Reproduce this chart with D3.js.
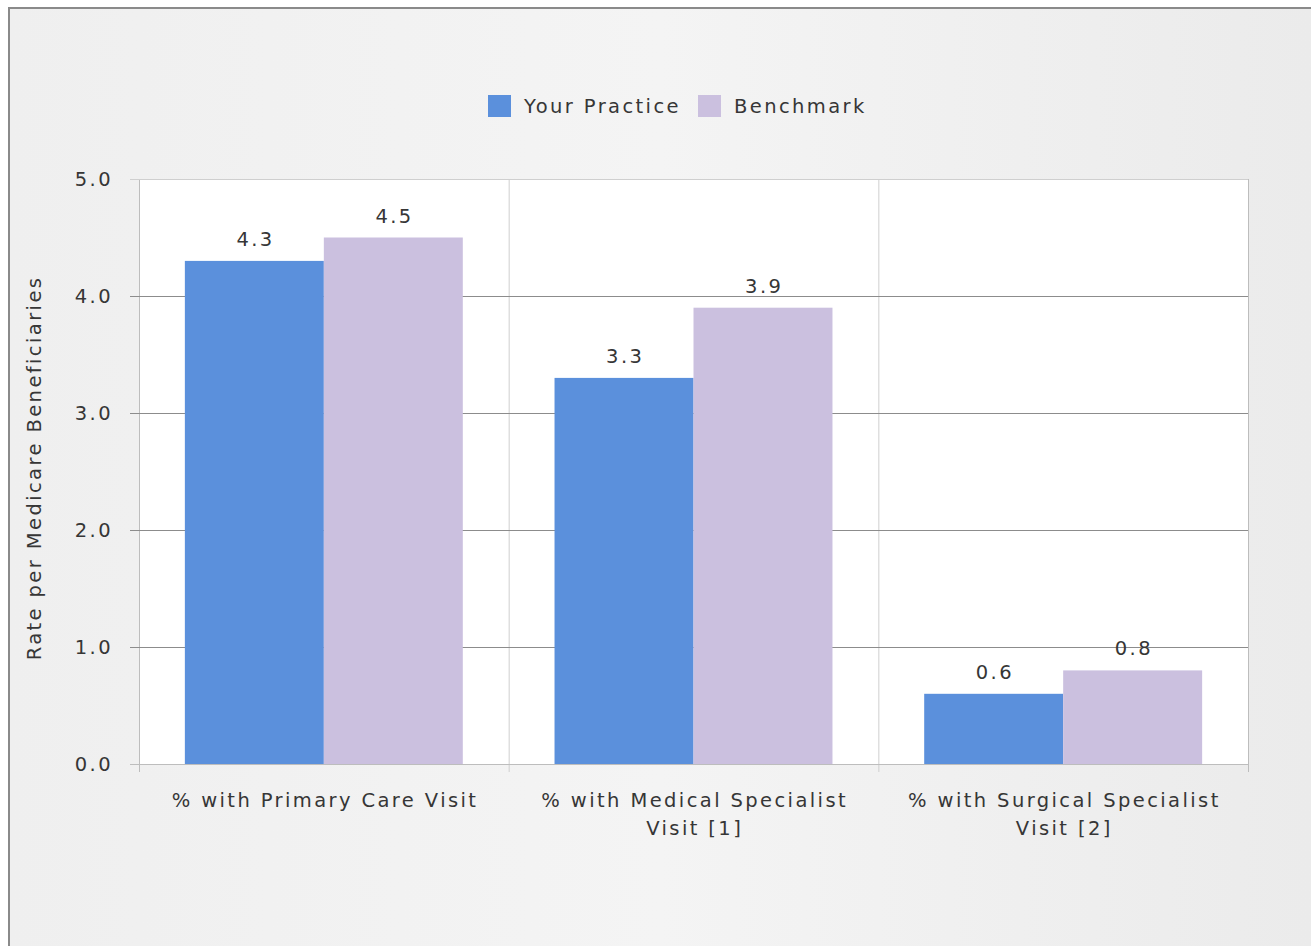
<!DOCTYPE html>
<html><head><meta charset="utf-8">
<script src="https://cdn.jsdelivr.net/npm/d3@7"></script>
<style>body{margin:0;background:#fff;}svg{display:block;}</style>
</head><body>
<script>
const categories = [["% with Primary Care Visit"], ["% with Medical Specialist", "Visit [1]"], ["% with Surgical Specialist", "Visit [2]"]];
const seriesNames = ["Your Practice", "Benchmark"];
const yourPractice = [4.3, 3.3, 0.6];
const benchmark = [4.5, 3.9, 0.8];
const yTicks = [0, 1, 2, 3, 4, 5];
const colors = ["#5b90dc", "#cbc0df"];

const W = 1311, H = 946;
const font = "'DejaVu Sans', Verdana, sans-serif";
const fs = 19.5, ls = 2.4, txt = "#363636";
const svg = d3.select("body").append("svg").attr("width", W).attr("height", H);
const defs = svg.append("defs");
const g1 = defs.append("linearGradient").attr("id", "bg").attr("x1", 0).attr("y1", 0).attr("x2", 1).attr("y2", 0);
g1.append("stop").attr("offset", 0).attr("stop-color", "#efefef");
g1.append("stop").attr("offset", 0.5).attr("stop-color", "#f4f4f4");
g1.append("stop").attr("offset", 1).attr("stop-color", "#ebebeb");

svg.append("rect").attr("x", 0).attr("y", 0).attr("width", W).attr("height", H).attr("fill", "#fff");
svg.append("rect").attr("x", 9).attr("y", 8).attr("width", W - 9).attr("height", H - 8).attr("fill", "url(#bg)");
svg.append("line").attr("x1", 9).attr("x2", 9).attr("y1", 7).attr("y2", H).attr("stroke", "#8a8a8a").attr("stroke-width", 2);
svg.append("line").attr("x1", 8).attr("x2", W).attr("y1", 8).attr("y2", 8).attr("stroke", "#8a8a8a").attr("stroke-width", 2);

const pLeft = 139, pRight = 1248, pTop = 179, pBottom = 764;
const x = d3.scaleBand().domain(d3.range(categories.length)).range([pLeft, pRight]);
const xs = d3.scaleBand().domain(seriesNames).range([0, x.bandwidth()]).paddingOuter(0.33);
const y = d3.scaleLinear().domain([0, 5]).range([pBottom, pTop]);

svg.append("rect").attr("x", pLeft).attr("y", pTop).attr("width", pRight - pLeft).attr("height", pBottom - pTop).attr("fill", "#fff");

// vertical grid
svg.append("g").selectAll("line").data(d3.range(1, categories.length)).join("line")
  .attr("x1", i => x(i) + 0.5).attr("x2", i => x(i) + 0.5)
  .attr("y1", pTop).attr("y2", pBottom + 8).attr("stroke", "#cfcfcf").attr("stroke-width", 1);
svg.append("line").attr("x1", pLeft + 0.5).attr("x2", pLeft + 0.5).attr("y1", pTop).attr("y2", pBottom + 8).attr("stroke", "#bdbdbd");
svg.append("line").attr("x1", pRight + 0.5).attr("x2", pRight + 0.5).attr("y1", pTop).attr("y2", pBottom + 8).attr("stroke", "#bdbdbd");

// horizontal grid + ticks
const yAxis = d3.axisLeft(y).tickValues(yTicks).tickFormat(d3.format(".1f")).tickSize(pRight - pLeft + 9).tickPadding(20);
const ya = svg.append("g").attr("transform", `translate(${pRight},0)`).call(yAxis);
ya.select(".domain").remove();
ya.selectAll(".tick line").attr("stroke", d => d === 5 ? "#cfcfcf" : (d === 0 ? "#bdbdbd" : "#8c8c8c"));
ya.selectAll(".tick text").attr("x", -(pRight - pLeft) - 26).attr("text-anchor", "end").attr("dy", "0.34em")
  .attr("font-family", font).attr("font-size", fs).attr("letter-spacing", ls).attr("fill", txt);

// bars
const data = categories.map((c, i) => [yourPractice[i], benchmark[i]]);
const groups = svg.append("g").selectAll("g").data(data).join("g").attr("transform", (d, i) => `translate(${x(i)},0)`);
groups.selectAll("rect").data(d => d.map((v, j) => ({v, s: seriesNames[j], j}))).join("rect")
  .attr("x", d => xs(d.s)).attr("width", xs.bandwidth()).attr("y", d => y(d.v)).attr("height", d => pBottom - y(d.v))
  .attr("fill", d => colors[d.j]);
groups.selectAll("text").data(d => d.map((v, j) => ({v, s: seriesNames[j]}))).join("text")
  .attr("x", d => xs(d.s) + xs.bandwidth() / 2 + ls / 2).attr("y", d => y(d.v) - 15)
  .attr("text-anchor", "middle").attr("font-family", font).attr("font-size", fs).attr("letter-spacing", ls).attr("fill", txt)
  .text(d => d3.format(".1f")(d.v));

// x labels
const xl = svg.append("g").selectAll("text").data(categories).join("text")
  .attr("x", (d, i) => x(i) + x.bandwidth() / 2 + ls / 2).attr("y", 807)
  .attr("text-anchor", "middle").attr("font-family", font).attr("font-size", fs).attr("letter-spacing", ls).attr("fill", txt);
xl.selectAll("tspan").data(d => d).join("tspan").attr("x", function () { return this.parentNode.getAttribute("x"); })
  .attr("dy", (d, i) => i === 0 ? 0 : 28).text(d => d);

// y title
svg.append("text").attr("transform", "translate(41,468) rotate(-90)").attr("text-anchor", "middle")
  .attr("font-family", font).attr("font-size", fs).attr("letter-spacing", ls).attr("fill", txt).text("Rate per Medicare Beneficiaries");

// legend
const lg = svg.append("g");
const legendX = [488, 698];
seriesNames.forEach((s, i) => {
  lg.append("rect").attr("x", legendX[i]).attr("y", 95).attr("width", 23).attr("height", 22).attr("fill", colors[i]);
  lg.append("text").attr("x", legendX[i] + 36).attr("y", 113).attr("font-family", font).attr("font-size", fs).attr("letter-spacing", ls).attr("fill", txt).text(s);
});
</script>
</body></html>
